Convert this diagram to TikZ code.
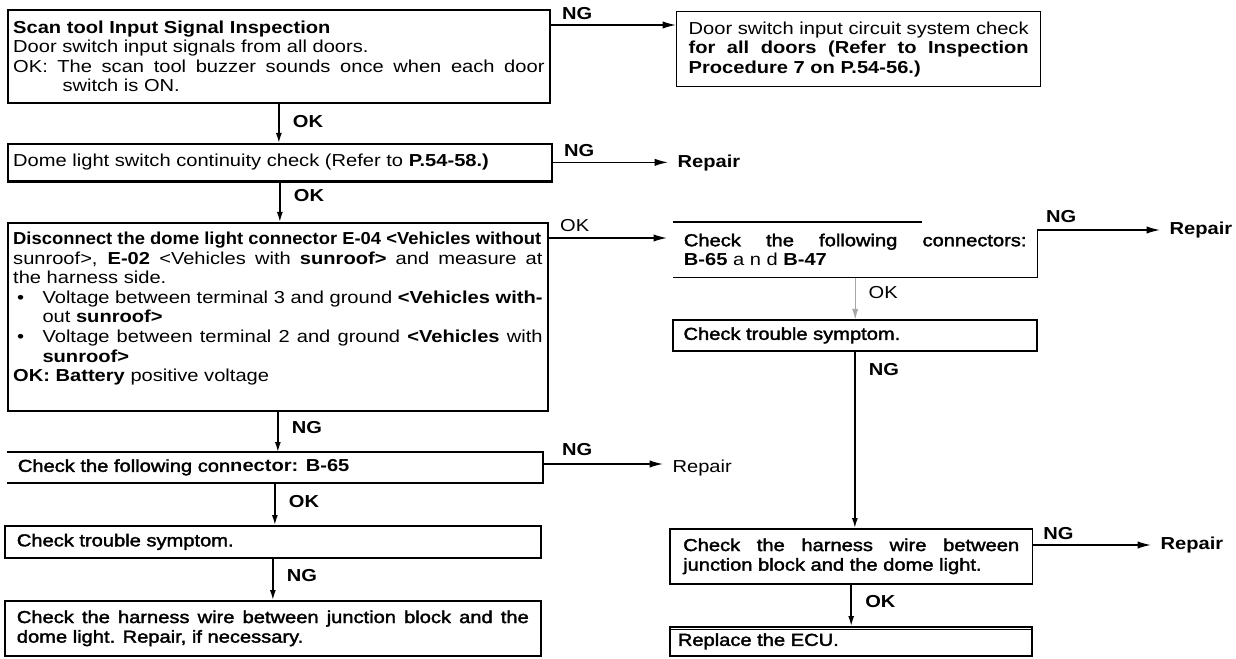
\documentclass[tikz,border=0pt]{standalone}
\usepackage{fontspec}
\setmainfont[FakeStretch=1.16]{Liberation Sans}
\newfontfamily\medfont[FakeStretch=1.16, FakeBold=2]{Liberation Sans}
\usepackage{graphicx}
\usetikzlibrary{arrows.meta}

\newcommand\boxfont{\fontsize{13}{14.7}\selectfont}

\begin{document}
\begin{tikzpicture}[x=0.75pt, y=-0.75pt,
    box/.style={draw, line width=1.3pt, rectangle, anchor=north west, align=justify, inner ysep=3pt, font=\boxfont},
    lbl/.style={font=\boxfont\bfseries, inner sep=1pt},
    rep/.style={font=\boxfont\bfseries, anchor=west, inner xsep=7pt},
    arr/.style={line width=1.1pt, -{Latex[length=7.5pt,width=4.5pt]}},
    arrh/.style={line width=1.1pt, -{Latex[length=10pt,width=5.5pt]}}]
    \useasboundingbox (0,0) rectangle (1236,659);

    % Draw nodes
    \node[box, inner xsep=4pt, text width=398.5pt, minimum height=69.75pt] (scan) at (7,9) {%
        \textbf{Scan tool Input Signal Inspection}\par
        Door switch input signals from all doors.\par
        OK: The scan tool buzzer sounds once when each door\linebreak \hspace*{37pt}switch is ON.};
    \node[box, line width=1pt, inner xsep=9pt, text width=255pt, minimum height=56.25pt] (circuit) at (676,11) {%
        Door switch input circuit system check\linebreak
        \textbf{for all doors (Refer to Inspection\linebreak Procedure 7 on P.54-56.)}};
    \node[box, inner xsep=4pt, text width=400pt, minimum height=27.75pt] (dome) at (7,143) {%
        Dome light switch continuity check (Refer to \textbf{P.54-58.)}};
    \node[box, inner xsep=4pt, text width=397pt, minimum height=141pt] (disc) at (7,222) {%
        \scalebox{0.915}[1]{\bfseries Disconnect the dome light connector E-04 <Vehicles without}\linebreak
        sunroof>, \textbf{E-02} <Vehicles with \textbf{sunroof>} and measure at\linebreak the harness side.\par
        \hangindent=22pt\hangafter=1\makebox[22pt][l]{\hspace{3pt}\textbullet}Voltage between terminal 3 and ground \textbf{<Vehicles with-}\linebreak out \textbf{sunroof>}\par
        \hangindent=22pt\hangafter=1\makebox[22pt][l]{\hspace{3pt}\textbullet}Voltage between terminal 2 and ground \textbf{<Vehicles} with\linebreak \textbf{sunroof>}\par
        \textbf{OK: Battery} positive voltage\rule[-15pt]{0pt}{15pt}};
    \node[box, draw=none, inner xsep=7.5pt, text width=257pt, minimum height=40.5pt] (conR) at (673,222) {%
        {\medfont Check the following connectors:}\linebreak \textbf{B-65} a n d \textbf{B-47}};
    \node[box, inner xsep=8pt, text width=257pt, minimum height=23.25pt] (symR) at (672,319) {\medfont Check trouble symptom.};
    \node[box, inner xsep=10pt, text width=252pt, minimum height=41.25pt] (harR) at (669,528) {%
        \medfont Check the harness wire between\linebreak junction block and the dome light.};
    \node[box, inner xsep=6pt, text width=259.5pt, minimum height=21.75pt] (ecu) at (669,626) {\medfont Replace the ECU.};
    \node[box, draw=none, inner xsep=7.5pt, text width=385.5pt, minimum height=21.75pt] (conL) at (7,452) {%
        {\medfont Check the following con}\textbf{nector: B-65}};
    \node[box, inner xsep=9pt, text width=384pt, minimum height=24pt] (symL) at (4,525) {\medfont Check trouble symptom.};
    \node[box, inner xsep=9pt, text width=384pt, minimum height=41.25pt] (harL) at (4,600) {%
        \medfont Check the harness wire between junction block and the\linebreak dome light. Repair, if necessary.};

    \node[rep] (rep1) at (668,163) {Repair};
    \node[rep] (rep2) at (1160,230) {Repair};
    \node[rep, font=\boxfont] (rep3) at (663,468) {Repair};
    \node[rep] (rep4) at (1151,545) {Repair};

    % Box edges
    \draw[line width=2.5pt] (dome.south west) -- (dome.south east);
    \draw[line width=2pt] (conR.north west) -- ++(249,0);
    \draw[line width=1.1pt] (conR.south west) -- (conR.south east) -- ([yshift=-6pt]conR.north east);
    \draw[line width=0.8pt] ([yshift=-2.5pt]ecu.north west) -- ([yshift=-2.5pt]ecu.north east);
    \draw[line width=2.2pt] (conL.north west) -- ++(306,0);
    \draw[line width=1.2pt] (conL.north west) -- (conL.north east) -- (conL.south east) -- (conL.south west);

    % Draw connections
    \draw[arrh] ([yshift=-12pt]scan.north east) -- ([yshift=-12pt]scan.north east -| circuit.west)
        node[lbl, pos=0, anchor=south west, xshift=7pt, yshift=2.5pt] {NG};
    \draw[arr] (scan.south) -- (scan.south |- dome.north) node[lbl, pos=0.45, right=9pt] {OK};
    \draw[arrh] (dome.east) -- (dome.east -| rep1.west)
        node[lbl, pos=0, anchor=south west, xshift=7pt, yshift=2.5pt] {NG};
    \draw[arr] (dome.south) -- (dome.south |- disc.north) node[lbl, pos=0.35, right=9pt] {OK};
    \draw[arrh, shorten >=4.5pt] ([yshift=-12pt]disc.north east) -- ([yshift=-12pt]disc.north east -| conR.west)
        node[lbl, font=\boxfont, pos=0, anchor=south west, xshift=7pt, yshift=3pt] {OK};
    \draw[arrh] ([yshift=-6pt]conR.north east) -- ([yshift=-6pt]conR.north east -| rep2.west)
        node[lbl, pos=0, anchor=south west, xshift=5pt, yshift=4pt] {NG};
    \draw[arr, line width=0.3pt, black!35] (conR.south) -- (conR.south |- symR.north)
        node[lbl, font=\boxfont, text=black, pos=0.35, right=9pt] {OK};
    \draw[arr] (symR.south) -- (symR.south |- harR.north) node[lbl, pos=0.1, right=9pt] {NG};
    \draw[arrh] ([yshift=-12.75pt]harR.north east) -- ([yshift=-12.75pt]harR.north east -| rep4.west)
        node[lbl, pos=0, anchor=south west, xshift=6pt, yshift=2.5pt] {NG};
    \draw[arr] (harR.south) -- (harR.south |- ecu.north) node[lbl, pos=0.4, right=9pt] {OK};
    \draw[arr] (disc.south) -- (disc.south |- conL.north) node[lbl, pos=0.4, right=9pt] {NG};
    \draw[arrh] ([yshift=-9pt]conL.north east) -- ([yshift=-9pt]conL.north east -| rep3.west)
        node[lbl, pos=0, anchor=south west, xshift=13pt, yshift=5pt] {NG};
    \draw[arr] (conL.south) -- (conL.south |- symL.north) node[lbl, pos=0.45, right=9pt] {OK};
    \draw[arr] (symL.south) -- (symL.south |- harL.north) node[lbl, pos=0.4, right=9pt] {NG};
\end{tikzpicture}
\end{document}
